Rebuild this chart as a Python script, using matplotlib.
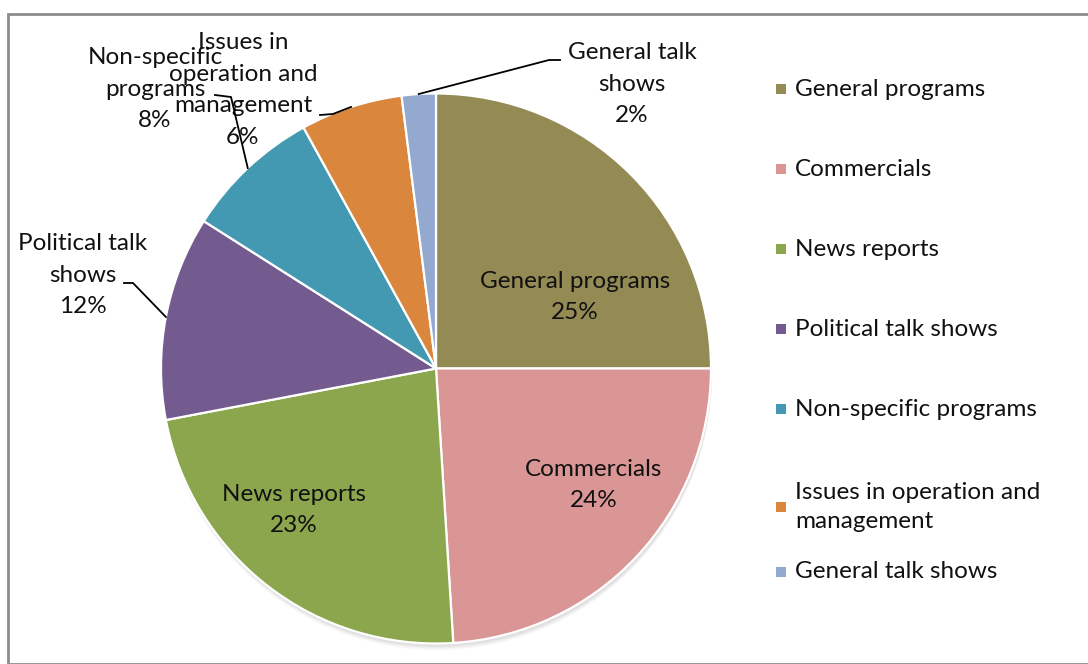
import numpy as np
import matplotlib.pyplot as plt
from matplotlib.patches import Rectangle

plt.rcParams['font.family'] = ['Lato', 'DejaVu Sans']

categories = ['General programs', 'Commercials', 'News reports', 'Political talk shows',
              'Non-specific programs', 'Issues in operation and management', 'General talk shows']
shares = [25, 24, 23, 12, 8, 6, 2]
colors = ['#948A54', '#D99694', '#8BA64C', '#735A8F', '#4399B1', '#DA863D', '#93A9D0']

# label text as it sits on the chart (wrapped)
slice_labels = ['General programs', 'Commercials', 'News reports', 'Political talk\nshows',
                'Non-specific\nprograms', 'Issues in\noperation and\nmanagement', 'General talk\nshows']
legend_labels = ['General programs', 'Commercials', 'News reports', 'Political talk shows',
                 'Non-specific programs', 'Issues in operation and\nmanagement', 'General talk shows']

W, H = 1088, 664
cx, cy, R = 436, 368.5, 275  # pie centre / radius in pixels

fig = plt.figure(figsize=(W / 100, H / 100), dpi=100)
ax = fig.add_axes([0, 0, 1, 1])
ax.axis('off')


def px(x, y):
    # pixel position -> data coords
    return (x - cx) / R, (cy - y) / R


# frame
fig.patches.append(Rectangle((8 / W, 0 / H), 1.2, (H - 14) / H, transform=fig.transFigure,
                             fill=False, edgecolor='#8C8C8C', linewidth=2))

# soft shadow under the pie
for i, a in enumerate([0.05, 0.04, 0.03]):
    ax.add_patch(plt.Circle((0.004, -0.012 - i * 0.006), 1.0, color='black', alpha=a, lw=0, zorder=0))

wedges, _ = ax.pie(shares, colors=colors, startangle=90, counterclock=False, radius=1.0,
                   wedgeprops=dict(edgecolor='white', linewidth=1.6), center=(0, 0))
ax.set_xlim(-cx / R, (W - cx) / R)
ax.set_ylim(-(H - cy) / R, cy / R)
ax.set_aspect('equal')

fs = 17.5
ls = 1.62
# labels inside the big slices
inside = {0: (575, 297), 1: (594, 485), 2: (294, 510)}
for i, (x, y) in inside.items():
    ax.text(*px(x, y), f'{slice_labels[i]}\n{shares[i]}%', ha='center', va='center',
            fontsize=fs, linespacing=ls, color='#111111')

# outside labels with leader lines: text centre, elbow start, elbow point
outside = {
    3: ((83, 275), (124, 283), (133, 283)),
    4: ((155, 89), (215, 95), (231, 97)),
    5: ((243, 90), (320, 115), (333, 114)),
    6: ((632, 84), (560, 60), (549, 60)),
}
for i, (tpos, p0, p1) in outside.items():
    ax.text(*px(*tpos), f'{slice_labels[i]}\n{shares[i]}%', ha='center', va='center',
            fontsize=fs, linespacing=ls, color='#111111')
    w = wedges[i]
    mid = np.deg2rad((w.theta1 + w.theta2) / 2)
    ex, ey = np.cos(mid), np.sin(mid)
    a, b = px(*p0), px(*p1)
    ax.plot([a[0], b[0], ex], [a[1], b[1], ey], color='black', lw=1.3, zorder=5)

# legend
leg_y = [89, 169, 249, 329, 409, 507, 572]
for i, y in enumerate(leg_y):
    x0, y0 = px(776, y + 5)
    ax.add_patch(Rectangle((x0, y0), 10 / R, 10 / R, facecolor=colors[i], edgecolor='none'))
    ax.text(*px(795, y), legend_labels[i], ha='left', va='center', fontsize=fs,
            linespacing=1.45, color='#111111')

fig.savefig('out.png', dpi=100)
